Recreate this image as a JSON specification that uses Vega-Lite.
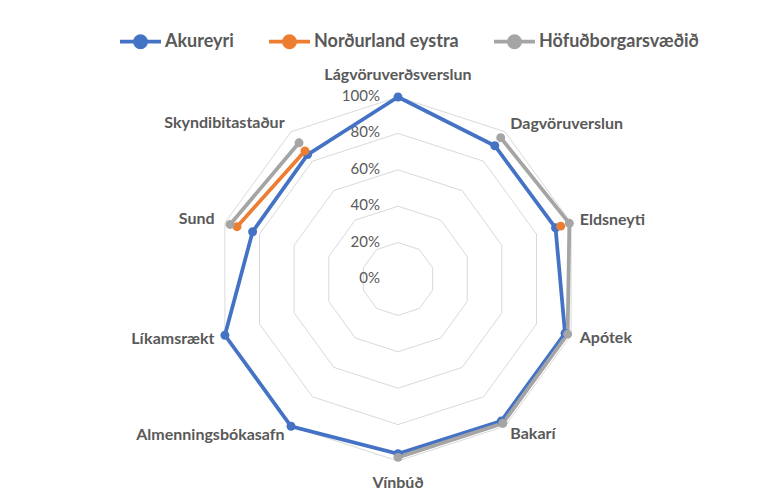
{
  "$schema": "https://vega.github.io/schema/vega-lite/v6.json",
  "width": 767,
  "height": 497,
  "autosize": {"type": "none"},
  "padding": 0,
  "background": "white",
  "config": {"view": {"stroke": null}, "font": "Lato"},
  "params": [
    {"name": "cats", "value": ["Lágvöruverðsverslun", "Dagvöruverslun", "Eldsneyti", "Apótek", "Bakarí", "Vínbúð", "Almenningsbókasafn", "Líkamsrækt", "Sund", "Skyndibitastaður"]}
  ],
  "datasets": {
    "scores": [
      {"series": "Akureyri", "category": "Lágvöruverðsverslun", "value": 1.0},
      {"series": "Akureyri", "category": "Dagvöruverslun", "value": 0.905},
      {"series": "Akureyri", "category": "Eldsneyti", "value": 0.91},
      {"series": "Akureyri", "category": "Apótek", "value": 0.965},
      {"series": "Akureyri", "category": "Bakarí", "value": 0.965},
      {"series": "Akureyri", "category": "Vínbúð", "value": 0.96},
      {"series": "Akureyri", "category": "Almenningsbókasafn", "value": 1.0},
      {"series": "Akureyri", "category": "Líkamsrækt", "value": 1.0},
      {"series": "Akureyri", "category": "Sund", "value": 0.84},
      {"series": "Akureyri", "category": "Skyndibitastaður", "value": 0.845},
      {"series": "Norðurland eystra", "category": "Lágvöruverðsverslun", "value": null},
      {"series": "Norðurland eystra", "category": "Dagvöruverslun", "value": null},
      {"series": "Norðurland eystra", "category": "Eldsneyti", "value": 0.94},
      {"series": "Norðurland eystra", "category": "Apótek", "value": null},
      {"series": "Norðurland eystra", "category": "Bakarí", "value": null},
      {"series": "Norðurland eystra", "category": "Vínbúð", "value": null},
      {"series": "Norðurland eystra", "category": "Almenningsbókasafn", "value": null},
      {"series": "Norðurland eystra", "category": "Líkamsrækt", "value": null},
      {"series": "Norðurland eystra", "category": "Sund", "value": 0.93},
      {"series": "Norðurland eystra", "category": "Skyndibitastaður", "value": 0.87},
      {"series": "Höfuðborgarsvæðið", "category": "Lágvöruverðsverslun", "value": null},
      {"series": "Höfuðborgarsvæðið", "category": "Dagvöruverslun", "value": 0.96},
      {"series": "Höfuðborgarsvæðið", "category": "Eldsneyti", "value": 0.99},
      {"series": "Höfuðborgarsvæðið", "category": "Apótek", "value": 0.98},
      {"series": "Höfuðborgarsvæðið", "category": "Bakarí", "value": 0.98},
      {"series": "Höfuðborgarsvæðið", "category": "Vínbúð", "value": 0.98},
      {"series": "Höfuðborgarsvæðið", "category": "Almenningsbókasafn", "value": null},
      {"series": "Höfuðborgarsvæðið", "category": "Líkamsrækt", "value": null},
      {"series": "Höfuðborgarsvæðið", "category": "Sund", "value": 0.97},
      {"series": "Höfuðborgarsvæðið", "category": "Skyndibitastaður", "value": 0.925}
    ],
    "rings": [
      {"level": 0, "label": "0%"},
      {"level": 0.2, "label": "20%"},
      {"level": 0.4, "label": "40%"},
      {"level": 0.6, "label": "60%"},
      {"level": 0.8, "label": "80%"},
      {"level": 1.0, "label": "100%"}
    ]
  },
  "layer": [
    {
      "data": {"name": "rings"},
      "transform": [
        {"filter": "datum.level > 0"},
        {"calculate": "cats", "as": "catlist"},
        {"flatten": ["catlist"], "as": ["category"]},
        {"calculate": "indexof(cats, datum.category)", "as": "idx"},
        {"calculate": "datum.level * sin(2 * PI * datum.idx / 10)", "as": "px"},
        {"calculate": "datum.level * cos(2 * PI * datum.idx / 10)", "as": "py"}
      ],
      "mark": {"type": "line", "interpolate": "linear-closed", "stroke": "#D9D9D9", "strokeWidth": 1},
      "encoding": {
        "x": {"field": "px", "type": "quantitative", "scale": {"domain": [-2.1868, 2.0275], "nice": false, "zero": false}, "axis": null},
        "y": {"field": "py", "type": "quantitative", "scale": {"domain": [-1.1978, 1.533], "nice": false, "zero": false}, "axis": null},
        "detail": {"field": "level", "type": "nominal"},
        "order": {"field": "idx", "type": "quantitative"}
      }
    },
    {
      "data": {"name": "rings"},
      "transform": [
        {"calculate": "0", "as": "px"},
        {"calculate": "datum.level", "as": "py"}
      ],
      "mark": {"type": "text", "align": "right", "baseline": "middle", "dx": -18, "dy": -1, "fontSize": 15, "color": "#595959"},
      "encoding": {
        "x": {"field": "px", "type": "quantitative", "scale": {"domain": [-2.1868, 2.0275], "nice": false, "zero": false}, "axis": null},
        "y": {"field": "py", "type": "quantitative", "scale": {"domain": [-1.1978, 1.533], "nice": false, "zero": false}, "axis": null},
        "text": {"field": "label", "type": "nominal"}
      }
    },
    {
      "data": {"name": "scores"},
      "transform": [
        {"calculate": "indexof(cats, datum.category)", "as": "idx"},
        {"calculate": "datum.idx === 0 ? [0, 10] : [datum.idx]", "as": "reps"},
        {"flatten": ["reps"], "as": ["k"]},
        {"calculate": "datum.value == null ? null : datum.value * sin(2 * PI * datum.k / 10)", "as": "px"},
        {"calculate": "datum.value == null ? null : datum.value * cos(2 * PI * datum.k / 10)", "as": "py"}
      ],
      "mark": {"type": "line", "interpolate": "linear", "strokeWidth": 3.75, "invalid": "break-paths-filter-domains"},
      "encoding": {
        "x": {"field": "px", "type": "quantitative", "scale": {"domain": [-2.1868, 2.0275], "nice": false, "zero": false}, "axis": null},
        "y": {"field": "py", "type": "quantitative", "scale": {"domain": [-1.1978, 1.533], "nice": false, "zero": false}, "axis": null},
        "color": {
          "field": "series",
          "type": "nominal",
          "scale": {"domain": ["Akureyri", "Norðurland eystra", "Höfuðborgarsvæðið"], "range": ["#4472C4", "#ED7D31", "#A5A5A5"]},
          "legend": {
            "title": null,
            "orient": "none",
            "direction": "horizontal",
            "legendX": 118,
            "legendY": 19,
            "padding": 0,
            "symbolType": "M-1,0L1,0M-0.27,0A0.27,0.27,0,1,1,0.27,0A0.27,0.27,0,1,1,-0.27,0Z",
            "symbolSize": 1681,
            "symbolStrokeWidth": 3.75,
            "labelFont": "Lato",
            "labelFontSize": 18,
            "labelFontWeight": "bold",
            "labelColor": "#595959",
            "labelOffset": 2,
            "columnPadding": 27,
            "encode": {"symbols": {"update": {"fill": {"scale": "color", "field": "value"}, "stroke": {"scale": "color", "field": "value"}, "opacity": {"value": 1}}}}
          }
        },
        "order": {"field": "k", "type": "quantitative"}
      }
    },
    {
      "data": {"name": "scores"},
      "transform": [
        {"filter": "datum.value != null"},
        {"calculate": "indexof(cats, datum.category)", "as": "idx"},
        {"calculate": "datum.value * sin(2 * PI * datum.idx / 10)", "as": "px"},
        {"calculate": "datum.value * cos(2 * PI * datum.idx / 10)", "as": "py"}
      ],
      "mark": {"type": "point", "shape": "circle", "filled": true, "size": 80, "opacity": 1},
      "encoding": {
        "x": {"field": "px", "type": "quantitative", "scale": {"domain": [-2.1868, 2.0275], "nice": false, "zero": false}, "axis": null},
        "y": {"field": "py", "type": "quantitative", "scale": {"domain": [-1.1978, 1.533], "nice": false, "zero": false}, "axis": null},
        "color": {"field": "series", "type": "nominal"}
      }
    },
    {
      "data": {"name": "scores"},
      "transform": [
        {"filter": "datum.series === 'Akureyri'"},
        {"calculate": "indexof(cats, datum.category)", "as": "idx"},
        {"filter": "datum.idx === 0 || datum.idx === 5"},
        {"calculate": "1.12 * sin(2 * PI * datum.idx / 10)", "as": "px"},
        {"calculate": "1.12 * cos(2 * PI * datum.idx / 10)", "as": "py"}
      ],
      "mark": {"type": "text", "align": "center", "baseline": "middle", "fontSize": 16, "fontWeight": "bold", "color": "#595959"},
      "encoding": {
        "x": {"field": "px", "type": "quantitative", "scale": {"domain": [-2.1868, 2.0275], "nice": false, "zero": false}, "axis": null},
        "y": {"field": "py", "type": "quantitative", "scale": {"domain": [-1.1978, 1.533], "nice": false, "zero": false}, "axis": null},
        "text": {"field": "category", "type": "nominal"}
      }
    },
    {
      "data": {"name": "scores"},
      "transform": [
        {"filter": "datum.series === 'Akureyri'"},
        {"calculate": "indexof(cats, datum.category)", "as": "idx"},
        {"filter": "datum.idx >= 1 && datum.idx <= 4"},
        {"calculate": "1.05 * sin(2 * PI * datum.idx / 10)", "as": "px"},
        {"calculate": "1.05 * cos(2 * PI * datum.idx / 10)", "as": "py"}
      ],
      "mark": {"type": "text", "align": "left", "baseline": "middle", "fontSize": 16, "fontWeight": "bold", "color": "#595959"},
      "encoding": {
        "x": {"field": "px", "type": "quantitative", "scale": {"domain": [-2.1868, 2.0275], "nice": false, "zero": false}, "axis": null},
        "y": {"field": "py", "type": "quantitative", "scale": {"domain": [-1.1978, 1.533], "nice": false, "zero": false}, "axis": null},
        "text": {"field": "category", "type": "nominal"}
      }
    },
    {
      "data": {"name": "scores"},
      "transform": [
        {"filter": "datum.series === 'Akureyri'"},
        {"calculate": "indexof(cats, datum.category)", "as": "idx"},
        {"filter": "datum.idx >= 6"},
        {"calculate": "1.06 * sin(2 * PI * datum.idx / 10)", "as": "px"},
        {"calculate": "1.06 * cos(2 * PI * datum.idx / 10)", "as": "py"}
      ],
      "mark": {"type": "text", "align": "right", "baseline": "middle", "fontSize": 16, "fontWeight": "bold", "color": "#595959"},
      "encoding": {
        "x": {"field": "px", "type": "quantitative", "scale": {"domain": [-2.1868, 2.0275], "nice": false, "zero": false}, "axis": null},
        "y": {"field": "py", "type": "quantitative", "scale": {"domain": [-1.1978, 1.533], "nice": false, "zero": false}, "axis": null},
        "text": {"field": "category", "type": "nominal"}
      }
    }
  ]
}
